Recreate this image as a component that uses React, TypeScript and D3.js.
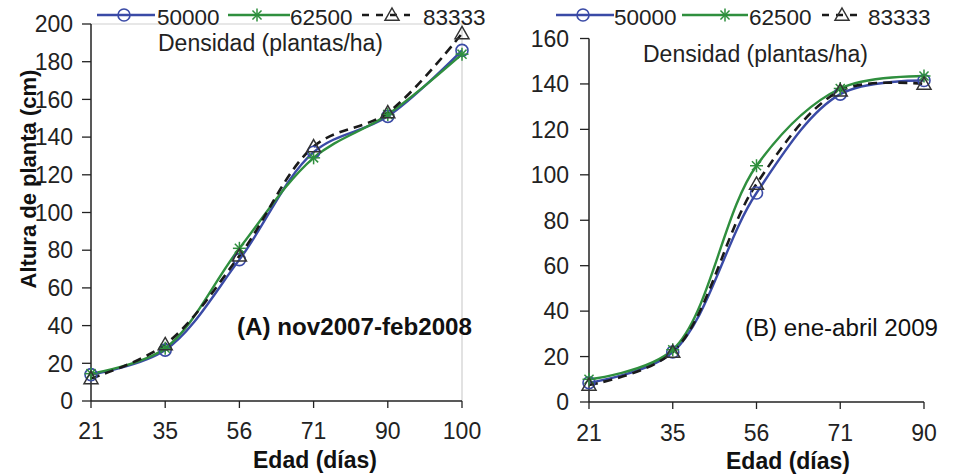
import React from "react";
import * as d3 from "d3";

// ---- data ----
const daysA = ["21", "35", "56", "71", "90", "100"];
const a50000 = [14, 27, 75, 132, 151, 186];
const a62500 = [14.5, 28, 81, 129, 152, 184];
const a83333 = [12, 30, 77, 135, 153, 195];

const daysB = ["21", "35", "56", "71", "90"];
const b50000 = [8.5, 22, 92, 135.5, 141.5];
const b62500 = [10, 23, 104, 138, 143.5];
const b83333 = [7.5, 22, 96, 137, 140];

const seriesNames = ["50000", "62500", "83333"];
const yTicksA = [0, 20, 40, 60, 80, 100, 120, 140, 160, 180, 200];
const yTicksB = [0, 20, 40, 60, 80, 100, 120, 140, 160];

const BLUE = "#3a4aa6";
const GREEN = "#2f8f3e";
const BLACK = "#1a1a1a";
const FONT = "Liberation Sans, Arial, Helvetica, sans-serif";

type Kind = "circle" | "star" | "tri";

function Marker({ kind, x, y, color }: { kind: Kind; x: number; y: number; color: string }) {
  if (kind === "circle")
    return <circle cx={x} cy={y} r={6} fill="none" stroke={color} strokeWidth={1.6} />;
  if (kind === "star") {
    const s = 6.5;
    return (
      <g stroke={color} strokeWidth={1.5}>
        <line x1={x - s} y1={y} x2={x + s} y2={y} />
        <line x1={x} y1={y - s} x2={x} y2={y + s} />
        <line x1={x - s * 0.7} y1={y - s * 0.7} x2={x + s * 0.7} y2={y + s * 0.7} />
        <line x1={x - s * 0.7} y1={y + s * 0.7} x2={x + s * 0.7} y2={y - s * 0.7} />
      </g>
    );
  }
  const s = 7;
  return (
    <path
      d={`M${x},${y - s}L${x + s},${y + s * 0.75}L${x - s},${y + s * 0.75}Z`}
      fill="none"
      stroke={color}
      strokeWidth={1.5}
    />
  );
}

interface PanelProps {
  days: string[];
  series: number[][];
  yMax: number;
  yTicks: number[];
  x0: number;
  x1: number;
  y0: number;
  y1: number;
  box: boolean;
  labelEndX: number;
  xLabelBaseline: number;
  xTitleX: number;
  xTitleY: number;
  note: string;
  noteX: number;
  noteY: number;
  noteBold: boolean;
  noteLen: number;
  legendY: number;
  legend: { lineFrom: number; lineTo: number; mark: number; text: number }[];
  densX: number;
  densY: number;
}

const kinds: Kind[] = ["circle", "star", "tri"];
const colors = [BLUE, GREEN, BLACK];
const markerColors = [BLUE, GREEN, "#333"];

function Panel(p: PanelProps) {
  const x = d3.scalePoint<string>().domain(p.days).range([p.x0, p.x1]).padding(0);
  const y = d3.scaleLinear().domain([0, p.yMax]).range([p.y0, p.y1]);
  const line = d3
    .line<number>()
    .x((_, i) => x(p.days[i]) as number)
    .y((d) => y(d))
    .curve(d3.curveCatmullRom.alpha(0.5));

  return (
    <g fontFamily={FONT}>
      {p.box && (
        <g stroke="#cfcfcf" strokeWidth={1.2} fill="none">
          <line x1={p.x0} y1={y(p.yMax)} x2={p.x1} y2={y(p.yMax)} />
          <line x1={p.x1} y1={y(p.yMax)} x2={p.x1} y2={p.y0} />
        </g>
      )}
      {/* axes */}
      <line x1={p.x0} y1={y(p.yMax)} x2={p.x0} y2={p.y0} stroke="#222" strokeWidth={1.5} />
      <line x1={p.x0} y1={p.y0} x2={p.x1} y2={p.y0} stroke="#222" strokeWidth={1.5} />
      {p.yTicks.map((t) => (
        <g key={"y" + t}>
          <line x1={p.x0 - 9} x2={p.x0} y1={y(t)} y2={y(t)} stroke="#222" strokeWidth={1.3} />
          <text x={p.labelEndX} y={y(t)} dy="0.36em" textAnchor="end" fontSize={23} fill="#222">
            {t}
          </text>
        </g>
      ))}
      {p.days.map((d) => (
        <g key={"x" + d}>
          <line x1={x(d)} x2={x(d)} y1={p.y0} y2={p.y0 + 7} stroke="#222" strokeWidth={1.3} />
          <text x={x(d)} y={p.xLabelBaseline} textAnchor="middle" fontSize={23} fill="#222">
            {d}
          </text>
        </g>
      ))}
      {/* lines */}
      {p.series.map((s, i) => (
        <path
          key={"l" + i}
          d={line(s) || ""}
          fill="none"
          stroke={colors[i]}
          strokeWidth={i === 2 ? 2.6 : 2.4}
          strokeDasharray={i === 2 ? "9,6" : undefined}
        />
      ))}
      {p.series.map((s, i) =>
        s.map((v, j) => (
          <Marker key={`m${i}-${j}`} kind={kinds[i]} x={x(p.days[j]) as number} y={y(v)} color={markerColors[i]} />
        ))
      )}
      {/* legend */}
      {p.legend.map((L, i) => (
        <g key={"lg" + i}>
          <line
            x1={L.lineFrom}
            x2={L.lineTo}
            y1={p.legendY}
            y2={p.legendY}
            stroke={colors[i]}
            strokeWidth={2.4}
            strokeDasharray={i === 2 ? "7,7" : undefined}
          />
          <Marker kind={kinds[i]} x={L.mark} y={p.legendY} color={markerColors[i]} />
          <text x={L.text} y={p.legendY + 10} fontSize={22.5} fill="#222">
            {seriesNames[i]}
          </text>
        </g>
      ))}
      <text x={p.densX} y={p.densY} fontSize={23} fill="#222">
        Densidad (plantas/ha)
      </text>
      <text
        x={p.noteX}
        y={p.noteY}
        fontSize={23}
        fontWeight={p.noteBold ? "bold" : "normal"}
        fill="#111"
        textLength={p.noteLen}
        lengthAdjust="spacingAndGlyphs"
      >
        {p.note}
      </text>
      <text x={p.xTitleX} y={p.xTitleY} textAnchor="middle" fontSize={23} fontWeight="bold" fill="#111">
        Edad (días)
      </text>
    </g>
  );
}

export default function App() {
  return (
    <svg
      width={953}
      height={476}
      style={{ position: "absolute", left: 0, top: 0, background: "#fff" }}
    >
      <rect width={953} height={476} fill="#fff" />
      <Panel
        days={daysA}
        series={[a50000, a62500, a83333]}
        yMax={200}
        yTicks={yTicksA}
        x0={91}
        x1={462}
        y0={401}
        y1={24}
        box={true}
        labelEndX={73}
        xLabelBaseline={439}
        xTitleX={315}
        xTitleY={468}
        note="(A) nov2007-feb2008"
        noteX={237}
        noteY={335}
        noteBold={true}
        noteLen={235}
        legendY={15}
        legend={[
          { lineFrom: 97, lineTo: 155, mark: 124, text: 157 },
          { lineFrom: 228, lineTo: 290, mark: 257, text: 290 },
          { lineFrom: 362, lineTo: 410, mark: 392, text: 423 },
        ]}
        densX={158}
        densY={51}
      />
      <Panel
        days={daysB}
        series={[b50000, b62500, b83333]}
        yMax={160}
        yTicks={yTicksB}
        x0={589}
        x1={924}
        y0={402}
        y1={38.5}
        box={false}
        labelEndX={569}
        xLabelBaseline={441}
        xTitleX={788}
        xTitleY={469}
        note="(B) ene-abril 2009"
        noteX={745}
        noteY={336}
        noteBold={false}
        noteLen={193}
        legendY={15}
        legend={[
          { lineFrom: 556, lineTo: 614, mark: 583, text: 614 },
          { lineFrom: 682, lineTo: 748, mark: 725, text: 749 },
          { lineFrom: 822, lineTo: 862, mark: 842, text: 868 },
        ]}
        densX={643}
        densY={62}
      />
      <text
        transform="translate(36,179) rotate(-90)"
        textAnchor="middle"
        fontSize={22}
        fontWeight="bold"
        fontFamily={FONT}
        fill="#111"
      >
        Altura de planta (cm)
      </text>
    </svg>
  );
}
